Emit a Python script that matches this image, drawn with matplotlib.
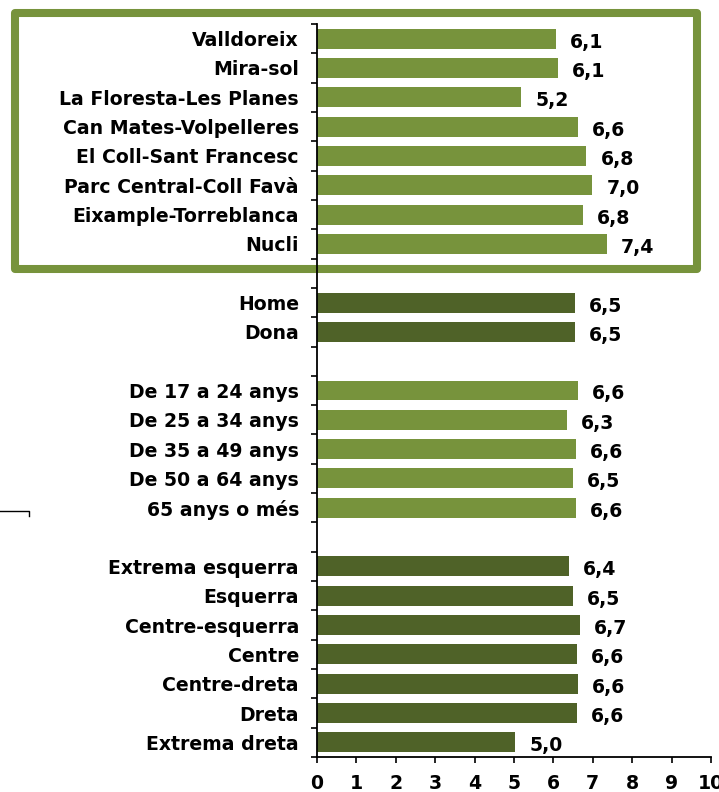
import matplotlib
matplotlib.use("Agg")
import matplotlib.pyplot as plt
from matplotlib.patches import Rectangle
from matplotlib.lines import Line2D

# ---- data (top to bottom) ----
territoris = ["Valldoreix", "Mira-sol", "La Floresta-Les Planes", "Can Mates-Volpelleres",
              "El Coll-Sant Francesc", "Parc Central-Coll Favà", "Eixample-Torreblanca", "Nucli"]
territoris_vals = [6.07, 6.12, 5.19, 6.62, 6.84, 6.99, 6.76, 7.36]

sexe = ["Home", "Dona"]
sexe_vals = [6.55, 6.55]

edat = ["De 17 a 24 anys", "De 25 a 34 anys", "De 35 a 49 anys", "De 50 a 64 anys", "65 anys o més"]
edat_vals = [6.62, 6.34, 6.57, 6.49, 6.57]

ideologia = ["Extrema esquerra", "Esquerra", "Centre-esquerra", "Centre", "Centre-dreta", "Dreta", "Extrema dreta"]
ideologia_vals = [6.40, 6.50, 6.68, 6.60, 6.63, 6.60, 5.03]

x_ticks = [0, 1, 2, 3, 4, 5, 6, 7, 8, 9, 10]

LIGHT = "#77933C"
DARK = "#4F6228"

groups = [(territoris, territoris_vals, LIGHT),
          (sexe, sexe_vals, DARK),
          (edat, edat_vals, LIGHT),
          (ideologia, ideologia_vals, DARK)]

plt.rcParams['font.family'] = ['DejaVu Sans']
plt.rcParams['font.weight'] = 'bold'
FS = 13.6

fig = plt.figure(figsize=(7.19, 7.92), dpi=100)
W, H = 719, 792
ax = fig.add_axes([317 / W, 1 - 757 / H, (711 - 317) / W, (757 - 24) / H])

labels, positions = [], []
pos = 0
for gi, (cats, vals, col) in enumerate(groups):
    ys = list(range(pos, pos + len(cats)))
    ax.barh(ys, vals, height=0.68, color=col, zorder=2)
    for y, v in zip(ys, vals):
        ax.annotate(f"{v:.1f}".replace(".", ","), xy=(v, y), xytext=(10, -2.5),
                    textcoords="offset points", ha="left", va="center",
                    fontsize=FS, fontweight="bold", color="black")
    labels += cats
    positions += ys
    pos += len(cats) + 1
nslots = pos - 1

ax.set_ylim(nslots - 0.5, -0.5)
ax.set_xlim(0, 10)
ax.set_yticks(positions)
ax.set_yticklabels(labels, fontsize=FS, fontweight="bold")
ax.tick_params(axis="y", which="major", length=0, pad=13)
ax.set_yticks([i - 0.5 for i in range(nslots + 1)], minor=True)
ax.tick_params(axis="y", which="minor", length=4, width=1.2, direction="out")
ax.set_xticks(x_ticks)
ax.set_xticklabels([str(t) for t in x_ticks], fontsize=FS, fontweight="bold")
ax.tick_params(axis="x", length=4, width=1.2, direction="out", pad=8)

for s in ["top", "right"]:
    ax.spines[s].set_visible(False)
for s in ["left", "bottom"]:
    ax.spines[s].set_linewidth(1.3)
    ax.spines[s].set_color("black")
    ax.spines[s].set_zorder(5)

# green frame around territory group
rect = Rectangle((15 / W, 1 - 269 / H), 682 / W, 256 / H, transform=fig.transFigure,
                 fill=False, edgecolor=LIGHT, linewidth=5.8, joinstyle="round",
                 clip_on=False, zorder=0)
ax.add_patch(rect)

# small stray line at left
fig.add_artist(Line2D([0, 29 / W, 29 / W], [1 - 511 / H, 1 - 511 / H, 1 - 516 / H],
                      transform=fig.transFigure, color="black", linewidth=1.0))

fig.savefig("out.png", dpi=100)
